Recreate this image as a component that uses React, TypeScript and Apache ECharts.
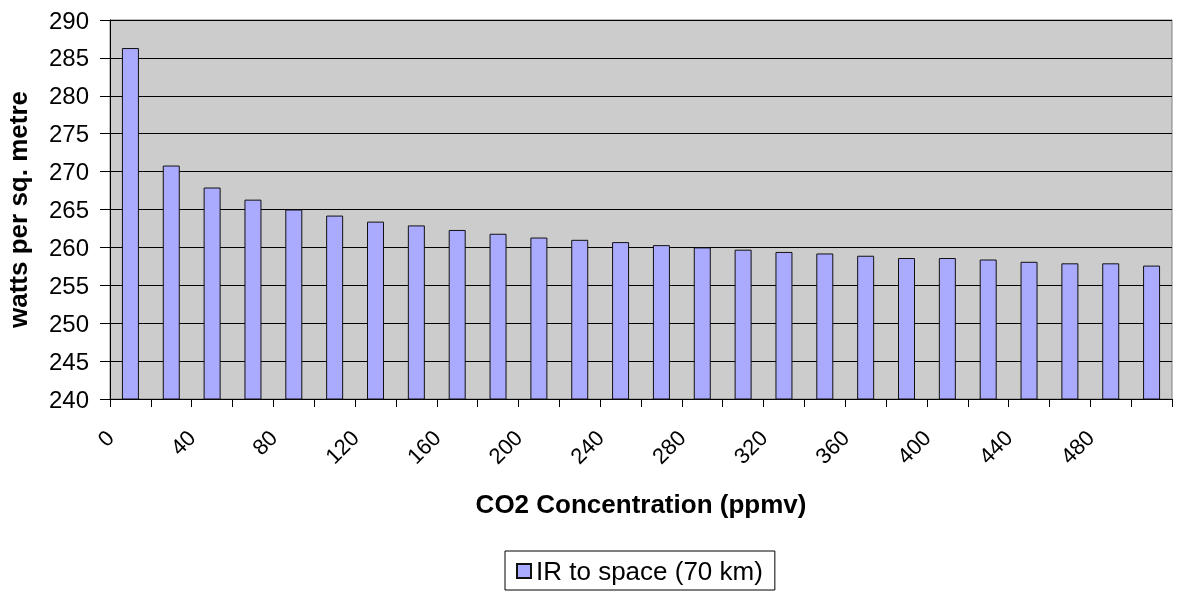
import React, { useEffect, useRef } from 'react';
import * as echarts from 'echarts';

// CO2 concentration categories (ppmv), one bar each
const concentrations = [0, 20, 40, 60, 80, 100, 120, 140, 160, 180, 200, 220, 240, 260, 280, 300, 320, 340, 360, 380, 400, 420, 440, 460, 480, 500];
// IR to space (70 km), watts per sq. metre
const irToSpace = [286.3, 270.8, 267.9, 266.3, 265.0, 264.2, 263.4, 262.9, 262.3, 261.8, 261.3, 261.0, 260.7, 260.3, 260.0, 259.7, 259.4, 259.2, 258.9, 258.6, 258.6, 258.4, 258.1, 257.9, 257.9, 257.6];

const seriesName = 'IR to space (70 km)';
const xTitle = 'CO2 Concentration (ppmv)';
const yTitle = 'watts per sq. metre';

// axis ranges
const yMin = 240;
const yMax = 290;
const yStep = 5;
const xLabelMin = 0;
const xLabelMax = 520;
const xLabelStep = 40;

export default function App() {
  const ref = useRef<HTMLDivElement>(null);
  useEffect(() => {
    const chart = echarts.init(ref.current!, null, { renderer: 'svg' });
    const font = '"Liberation Sans", Arial, sans-serif';
    chart.setOption({
      animation: false,
      textStyle: { fontFamily: font, color: '#000' },
      grid: {
        left: 110,
        top: 20,
        right: 8,
        bottom: 196,
        outerBoundsMode: 'none',
        containLabel: false,
        show: true,
        backgroundColor: '#cccccc',
        borderColor: '#808080',
        borderWidth: 1,
      },
      legend: {
        data: [seriesName],
        left: 505,
        top: 551,
        icon: 'rect',
        itemWidth: 14,
        itemHeight: 14,
        itemGap: 6,
        padding: [7, 12, 6, 11],
        borderColor: '#000',
        borderWidth: 1,
        backgroundColor: '#fff',
        textStyle: { fontSize: 26, color: '#000', fontFamily: font },
      },
      xAxis: [
        {
          type: 'category',
          data: concentrations.map(String),
          boundaryGap: true,
          axisLine: { show: true, lineStyle: { color: '#000', width: 1 } },
          axisTick: { show: true, length: 8, lineStyle: { color: '#000' } },
          axisLabel: { show: false },
          splitLine: { show: false },
          name: xTitle,
          nameLocation: 'middle',
          nameGap: 92,
          nameTextStyle: { fontSize: 26, fontWeight: 'bold', color: '#000', fontFamily: font },
        },
        {
          type: 'value',
          min: xLabelMin,
          max: xLabelMax,
          interval: xLabelStep,
          position: 'bottom',
          axisLine: { show: false },
          axisTick: { show: false },
          splitLine: { show: false },
          axisLabel: {
            rotate: 45,
            margin: 35,
            fontSize: 22,
            color: '#000',
            fontFamily: font,
            hideOverlap: false,
            formatter: (v: number) => (v >= xLabelMax ? '' : String(v)),
          },
        },
      ],
      yAxis: {
        type: 'value',
        min: yMin,
        max: yMax,
        interval: yStep,
        axisLine: { show: true, lineStyle: { color: '#000', width: 1 } },
        axisTick: { show: true, length: 10, lineStyle: { color: '#000' } },
        axisLabel: { fontSize: 24, margin: 21, color: '#000', fontFamily: font },
        splitLine: { show: true, lineStyle: { color: '#000', width: 1 } },
        name: yTitle,
        nameLocation: 'middle',
        nameGap: 79,
        nameRotate: 90,
        nameTextStyle: { fontSize: 26, fontWeight: 'bold', color: '#000', fontFamily: font },
      },
      series: [
        {
          type: 'bar',
          name: seriesName,
          xAxisIndex: 0,
          data: irToSpace,
          barWidth: 17,
          itemStyle: { color: '#aaaaff', borderColor: '#111', borderWidth: 1 },
        },
      ],
    });
    return () => chart.dispose();
  }, []);
  return <div ref={ref} style={{ position: 'fixed', left: 0, top: 0, width: 1180, height: 595 }} />;
}
